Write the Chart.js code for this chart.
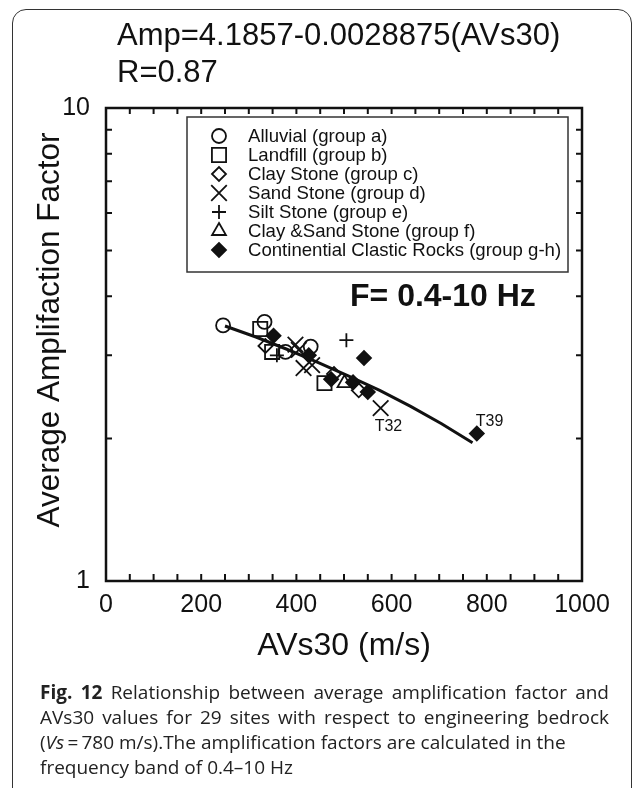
<!DOCTYPE html>
<html>
<head>
<meta charset="utf-8">
<script src="https://cdn.jsdelivr.net/npm/chart.js"></script>
<style>
  body { margin: 0; background: #fff; }
  #wrap { position: relative; width: 634px; height: 788px; overflow: hidden; background: #fff; }
  #frame { position: absolute; left: 12px; top: 9px; width: 618px; height: 900px; border: 1.5px solid #333; border-radius: 14px; }
  #title { position: absolute; left: 117px; top: 16px; font: 31px "Liberation Sans", Arial, sans-serif; line-height: 37px; color: #111; white-space: nowrap; }
  #chart { position: absolute; left: 0; top: 0; }
  #caption { position: absolute; left: 40px; top: 680px; width: 569px; font: 19px "Open Sans", sans-serif; line-height: 25px; color: #222; }
  #caption .j { text-align: justify; text-align-last: justify; }
</style>
</head>
<body>
<div id="wrap">
  <div id="frame"></div>
  <canvas id="chart" width="634" height="680"></canvas>
  <div id="title">Amp=4.1857-0.0028875(AVs30)<br>R=0.87</div>
  <div id="caption">
    <div class="j"><b>Fig. 12</b> Relationship between average amplification factor and</div>
    <div class="j">AVs30 values for 29 sites with respect to engineering bedrock</div>
    <div>(<i>Vs</i>&thinsp;=&thinsp;780 m/s).The amplification factors are calculated in the</div>
    <div>frequency band of 0.4–10 Hz</div>
  </div>
</div>
<script>
// axis ticks
const xTickLabels = [0, 200, 400, 600, 800, 1000];
const yTickLabels = [1, 10];

// groups
const groupNames = [
    'Alluvial (group a)',
    'Landfill (group b)',
    'Clay Stone (group c)',
    'Sand Stone (group d)',
    'Silt Stone (group e)',
    'Clay &Sand Stone (group f)',
    'Continential Clastic Rocks (group g-h)'
];

const alluvialVs = [246, 333, 377, 430];
const alluvialAmp = [3.47, 3.53, 3.05, 3.13];

const landfillVs = [324, 349, 459];
const landfillAmp = [3.41, 3.05, 2.62];

const clayVs = [335, 479, 531];
const clayAmp = [3.14, 2.74, 2.53];

const sandVs = [398, 405, 415, 433, 577];
const sandAmp = [3.16, 3.08, 2.82, 2.86, 2.32];

const siltVs = [359, 505];
const siltAmp = [3.00, 3.23];

const claySandVs = [501];
const claySandAmp = [2.62];

const clasticVs = [352, 426, 473, 519, 542, 550, 779];
const clasticAmp = [3.30, 3.00, 2.67, 2.63, 2.96, 2.51, 2.05];

// regression line Amp=4.1857-0.0028875(AVs30)
const fitVs = [250, 315, 380, 445, 510, 575, 640, 705, 770];
const fitAmp = [3.46, 3.28, 3.09, 2.90, 2.71, 2.53, 2.34, 2.15, 1.96];

// labelled sites
const siteNames = ['T32', 'T39'];
const siteVs = [577, 779];
const siteAmp = [2.32, 2.05];

const FONT = '"Liberation Sans", Arial, sans-serif';

function pts(xs, ys) {
    return xs.map((x, i) => ({ x: x, y: ys[i] }));
}

const markers = [
    { style: 'circle', r: 7, fill: false },
    { style: 'rect', r: 10, fill: false },
    { style: 'rectRot', r: 7, fill: false },
    { style: 'crossRot', r: 11, fill: false },
    { style: 'cross', r: 7, fill: false },
    { style: 'triangle', r: 8, fill: false },
    { style: 'rectRot', r: 7, fill: true }
];

const groupData = [
    pts(alluvialVs, alluvialAmp),
    pts(landfillVs, landfillAmp),
    pts(clayVs, clayAmp),
    pts(sandVs, sandAmp),
    pts(siltVs, siltAmp),
    pts(claySandVs, claySandAmp),
    pts(clasticVs, clasticAmp)
];

const datasets = groupData.map((d, i) => ({
    type: 'scatter',
    label: groupNames[i],
    data: d,
    order: 1,
    pointStyle: markers[i].style,
    pointRadius: markers[i].r,
    pointBorderWidth: 1.8,
    pointBorderColor: '#111',
    pointBackgroundColor: markers[i].fill ? '#111' : 'rgba(0,0,0,0)'
}));

datasets.push({
    type: 'line',
    label: 'fit',
    data: pts(fitVs, fitAmp),
    order: 0,
    borderColor: '#111',
    borderWidth: 3,
    pointRadius: 0,
    fill: false,
    tension: 0
});

function drawMarker(ctx, m, x, y) {
    const opts = { pointStyle: m.style, radius: m.r, rotation: 0, borderWidth: 1.8 };
    ctx.save();
    ctx.strokeStyle = '#111';
    ctx.fillStyle = m.fill ? '#111' : 'rgba(0,0,0,0)';
    ctx.lineWidth = 1.8;
    Chart.helpers.drawPoint(ctx, opts, x, y);
    ctx.restore();
}

// box, inward ticks, y title, legend and notes
const decorPlugin = {
    id: 'decor',
    afterDraw(chart) {
        const ctx = chart.ctx;
        const a = chart.chartArea;
        const xs = chart.scales.x;
        const ys = chart.scales.y;

        ctx.save();
        ctx.strokeStyle = '#111';
        ctx.lineWidth = 2.5;
        ctx.strokeRect(a.left, a.top, a.right - a.left, a.bottom - a.top);

        ctx.lineWidth = 2;
        ctx.beginPath();
        for (let v = 50; v < 1000; v += 50) {
            const px = xs.getPixelForValue(v);
            ctx.moveTo(px, a.bottom);
            ctx.lineTo(px, a.bottom - 7);
            ctx.moveTo(px, a.top);
            ctx.lineTo(px, a.top + 6);
        }
        for (let v = 2; v < 10; v++) {
            const py = ys.getPixelForValue(v);
            ctx.moveTo(a.left, py);
            ctx.lineTo(a.left + 6, py);
            ctx.moveTo(a.right, py);
            ctx.lineTo(a.right - 6, py);
        }
        ctx.stroke();

        // y axis title
        ctx.save();
        ctx.translate(50, a.top + 222);
        ctx.rotate(-Math.PI / 2);
        ctx.font = '31.5px ' + FONT;
        ctx.fillStyle = '#111';
        ctx.textAlign = 'center';
        ctx.textBaseline = 'middle';
        ctx.fillText('Average Amplifaction Factor', 0, 0);
        ctx.restore();

        // legend box
        const lx = a.left + 81, ly = a.top + 9, lw = 381, lh = 155;
        ctx.lineWidth = 1.5;
        ctx.strokeStyle = '#333';
        ctx.fillStyle = '#fff';
        ctx.fillRect(lx, ly, lw, lh);
        ctx.strokeRect(lx, ly, lw, lh);
        ctx.font = '18.6px ' + FONT;
        ctx.textBaseline = 'middle';
        groupNames.forEach((name, i) => {
            const rowY = ly + 19 + i * 19;
            drawMarker(ctx, markers[i], lx + 32, rowY);
            ctx.fillStyle = '#111';
            ctx.fillText(name, lx + 61, rowY + 1);
        });

        // frequency band note
        ctx.font = 'bold 32px ' + FONT;
        ctx.fillStyle = '#111';
        ctx.fillText('F= 0.4-10 Hz', a.left + 244, a.top + 189);

        // site labels
        ctx.font = '16px ' + FONT;
        const offs = [[-6, 18], [-1, -12]];
        siteNames.forEach((n, i) => {
            const px = xs.getPixelForValue(siteVs[i]);
            const py = ys.getPixelForValue(siteAmp[i]);
            ctx.fillText(n, px + offs[i][0], py + offs[i][1]);
        });
        ctx.restore();
    }
};

const ctx = document.getElementById('chart').getContext('2d');
const chart = new Chart(ctx, {
    data: { datasets: datasets },
    plugins: [decorPlugin],
    options: {
        responsive: false,
        animation: false,
        devicePixelRatio: 1,
        layout: { padding: { left: 0, top: 108, right: 52, bottom: 0 } },
        plugins: { legend: { display: false }, tooltip: { enabled: false } },
        scales: {
            x: {
                type: 'linear',
                min: 0,
                max: 1000,
                afterFit: s => { s.height = 99; },
                afterBuildTicks: s => { s.ticks = xTickLabels.map(v => ({ value: v })); },
                grid: { display: false },
                border: { display: false },
                ticks: { color: '#111', font: { family: FONT, size: 25 }, padding: 1, maxRotation: 0, callback: v => String(v) },
                title: { display: true, text: 'AVs30 (m/s)', color: '#111', font: { family: FONT, size: 32 }, padding: { top: 0, bottom: 15 } }
            },
            y: {
                type: 'logarithmic',
                min: 1,
                max: 10,
                afterFit: s => { s.width = 106; },
                afterBuildTicks: s => { s.ticks = yTickLabels.map(v => ({ value: v })); },
                grid: { display: false },
                border: { display: false },
                ticks: { color: '#111', font: { family: FONT, size: 25 }, padding: 8, callback: v => String(v) },
                title: { display: false }
            }
        }
    }
});
</script>
</body>
</html>
